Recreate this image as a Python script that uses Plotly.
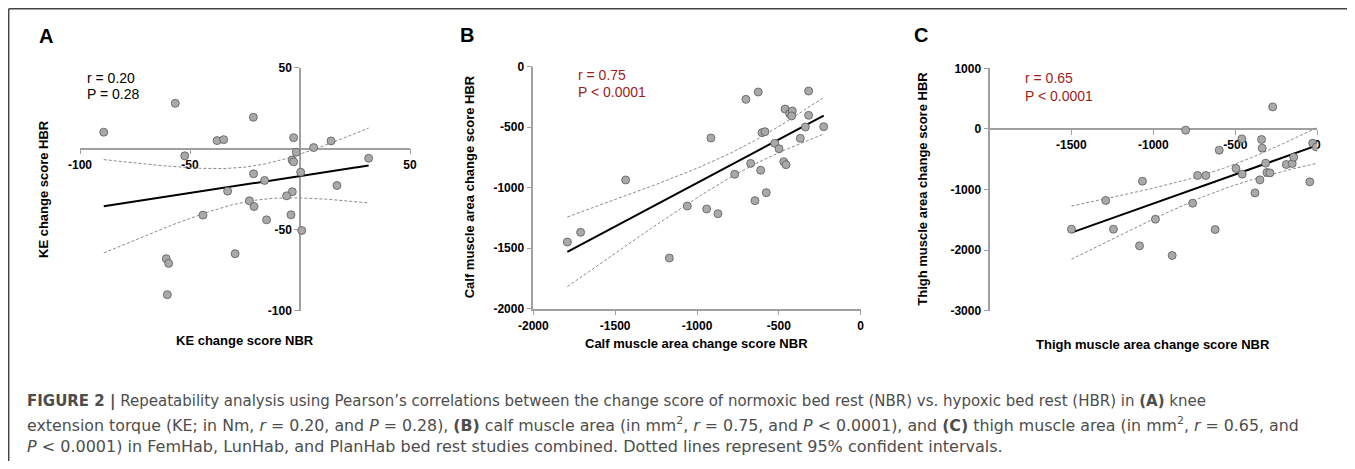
import numpy as np
import plotly.graph_objects as go

W, H = 1355, 469          # browser window
BM = 8                    # default body margin of the page
FW, FH = W - 2 * BM, H - 2 * BM

# ---------------- data ----------------
# Panel A: knee extension torque change scores (Nm)
ke_nbr = [-89.2, -56.7, -21.2, -37.7, -34.7, -52.4, -2.9, 14.1, 6.2, -1.7,
          -3.6, -2.9, 31.2, 0.3, -21.1, -16.1, 16.8, -32.9, -3.5, -6.1,
          -23.0, -20.9, -44.1, -4.1, -15.2, 0.8, -29.5, -60.8, -59.7, -60.3]
ke_hbr = [10.2, 28.0, 19.4, 5.0, 5.6, -4.4, 6.8, 4.8, 0.7, -2.2,
          -6.9, -8.1, -5.9, -14.5, -15.5, -19.6, -22.7, -26.2, -26.6, -29.1,
          -32.2, -35.7, -41.0, -40.8, -43.9, -50.5, -64.8, -67.9, -70.8, -90.1]

# Panel B: calf muscle area change scores (mm2)
calf_nbr = [-1792, -1711, -1436, -1169, -1059, -941, -872, -915, -770, -701,
            -626, -672, -646, -611, -577, -603, -585, -525, -499, -470,
            -456, -462, -434, -418, -422, -369, -338, -318, -318, -226]
calf_hbr = [-1449, -1369, -936, -1581, -1151, -1176, -1215, -589, -889, -270,
            -209, -799, -1107, -856, -1041, -545, -537, -633, -678, -785,
            -810, -350, -388, -366, -407, -592, -498, -402, -201, -496]

# Panel C: thigh muscle area change scores (mm2)
thigh_nbr = [-1499, -1290, -1243, -1084, -1066, -987, -885, -803, -760, -730,
             -680, -623, -598, -496, -460, -458, -380, -350, -340, -336,
             -315, -307, -289, -272, -189, -153, -144, -46, -28, -6]
thigh_hbr = [-1655, -1181, -1655, -1930, -863, -1490, -2089, -21, -1226, -769,
             -769, -1660, -351, -653, -165, -747, -1056, -841, -175, -318,
             -566, -720, -726, 363, -588, -571, -467, -874, -236, -297]

# Tick labels
a_xticks = [-100, -50, 50]
a_yticks = [50, -50, -100]
b_xticks = [-2000, -1500, -1000, -500, 0]
b_yticks = [0, -500, -1000, -1500, -2000]
c_xticks = [-1500, -1000, -500, 0]
c_yticks = [1000, 0, -1000, -2000, -3000]

stats_a = ["r = 0.20", "P = 0.28"]
stats_b = ["r = 0.75", "P &lt; 0.0001"]
stats_c = ["r = 0.65", "P &lt; 0.0001"]

T_CRIT = 2.048  # t(0.975, df = 28)


# ---------------- helpers ----------------
def fx(px):
    return (px - BM) / FW


def fy(py):
    return 1 - (py - BM) / FH


def fit(x, y):
    x = np.asarray(x, float)
    y = np.asarray(y, float)
    n = len(x)
    b, a = np.polyfit(x, y, 1)
    xs = np.linspace(x.min(), x.max(), 120)
    yh = a + b * xs
    resid = y - (a + b * x)
    s = np.sqrt((resid ** 2).sum() / (n - 2))
    sxx = ((x - x.mean()) ** 2).sum()
    se = s * np.sqrt(1 / n + (xs - x.mean()) ** 2 / sxx)
    return xs, yh, yh - T_CRIT * se, yh + T_CRIT * se


FONT = "Arial, 'Liberation Sans', Helvetica, sans-serif"
CAPFONT = "'DejaVu Sans', Arial, sans-serif"
AXC = "#a0a0a0"
DOT_FILL = "#a9a9a9"
DOT_LINE = "#5a5a5a"
RED = "#a01c1c"

fig = go.Figure()

panels = [
    ("x", "y", ke_nbr, ke_hbr),
    ("x2", "y2", calf_nbr, calf_hbr),
    ("x3", "y3", thigh_nbr, thigh_hbr),
]
for xa, ya, xv, yv in panels:
    xs, yh, lo, hi = fit(xv, yv)
    for band in (lo, hi):
        fig.add_trace(go.Scatter(x=xs, y=band, mode="lines", xaxis=xa, yaxis=ya,
                                 line=dict(color="#8a8a8a", width=1, dash="3px,2px"),
                                 showlegend=False, hoverinfo="skip"))
    fig.add_trace(go.Scatter(x=xs, y=yh, mode="lines", xaxis=xa, yaxis=ya,
                             line=dict(color="black", width=2),
                             showlegend=False, hoverinfo="skip"))
    fig.add_trace(go.Scatter(x=xv, y=yv, mode="markers", xaxis=xa, yaxis=ya,
                             marker=dict(size=8, color=DOT_FILL,
                                         line=dict(color=DOT_LINE, width=0.8)),
                             showlegend=False))


def axis(domain, rng, tickvals, **kw):
    d = dict(domain=domain, range=rng, tickvals=tickvals,
             ticktext=[str(v) for v in tickvals],
             showline=True, linecolor=AXC, linewidth=1.5,
             ticks="outside", ticklen=5, tickwidth=1.2, tickcolor=AXC,
             showgrid=False, zeroline=False, layer="below traces",
             automargin=False,
             tickfont=dict(family=FONT, size=12, color="black", weight="bold"),
             fixedrange=True)
    d.update(kw)
    return d


def zero_pos(dom, rng):
    return dom[0] + (0 - rng[0]) / (rng[1] - rng[0]) * (dom[1] - dom[0])


# Panel A geometry
a_xd = [fx(80), fx(410)]
a_yd = [fy(310.7), fy(67.7)]
a_rx = [-100, 50]
a_ry = [-100, 50]
# Panel B
b_xd = [fx(533.3), fx(860.7)]
b_yd = [fy(308.7), fy(66.7)]
b_rx = [-2000, 0]
b_ry = [-2000, 0]
# Panel C
c_xd = [fx(989.3), fx(1317.3)]
c_yd = [fy(310.7), fy(68.3)]
c_rx = [-2000, 0]
c_ry = [-3000, 1000]

fig.update_layout(
    width=FW, height=FH,
    margin=dict(l=0, r=0, t=0, b=0, pad=0, autoexpand=False),
    paper_bgcolor="white", plot_bgcolor="rgba(0,0,0,0)",
    showlegend=False,
    xaxis=axis(a_xd, a_rx, a_xticks, anchor="free", position=zero_pos(a_yd, a_ry)),
    yaxis=axis(a_yd, a_ry, a_yticks, anchor="free", position=zero_pos(a_xd, a_rx)),
    xaxis2=axis(b_xd, b_rx, b_xticks, anchor="y2"),
    yaxis2=axis(b_yd, b_ry, b_yticks, anchor="x2"),
    xaxis3=axis(c_xd, c_rx, c_xticks, anchor="free", position=zero_pos(c_yd, c_ry)),
    yaxis3=axis(c_yd, c_ry, c_yticks, anchor="free", position=c_xd[0]),
)

ann = []


def text(x, y, s, size=13, bold=False, color="black", angle=0, xanchor="center",
         family=FONT):
    ann.append(dict(x=fx(x), y=fy(y), xref="paper", yref="paper", text=s,
                    showarrow=False, xanchor=xanchor, yanchor="middle",
                    textangle=angle,
                    font=dict(family=family, size=size, color=color,
                              weight="bold" if bold else "normal")))


# panel letters
text(45.5, 36.5, "A", size=20, bold=True)
text(466.7, 35, "B", size=20, bold=True)
text(920.7, 35, "C", size=20, bold=True)

# axis titles
text(245, 340, "KE change score NBR", bold=True)
text(43, 189, "KE change score HBR", bold=True, angle=-90)
text(696.7, 343.3, "Calf muscle area change score NBR", bold=True)
text(469.3, 187, "Calf muscle area change score HBR", bold=True, angle=-90)
text(1153.3, 344, "Thigh muscle area change score NBR", bold=True)
text(921.7, 189, "Thigh muscle area change score HBR", bold=True, angle=-90)

# stats
text(85, 77.7, stats_a[0], size=14, xanchor="left")
text(85, 94.2, stats_a[1], size=14, xanchor="left")
text(576, 75, stats_b[0], size=14, color=RED, xanchor="left")
text(576, 91.7, stats_b[1], size=14, color=RED, xanchor="left")
text(1022.7, 78.3, stats_c[0], size=14, color=RED, xanchor="left")
text(1022.7, 96, stats_c[1], size=14, color=RED, xanchor="left")

# caption
CAP = "#4d4d4d"
cap1 = ("<b>FIGURE 2 |</b> Repeatability analysis using Pearson’s correlations between the change "
        "score of normoxic bed rest (NBR) vs. hypoxic bed rest (HBR) in <b>(A)</b> knee")
cap2 = ("extension torque (KE; in Nm, <i>r</i> = 0.20, and <i>P</i> = 0.28), <b>(B)</b> calf muscle "
        "area (in mm<sup>2</sup>, <i>r</i> = 0.75, and <i>P</i> &lt; 0.0001), and <b>(C)</b> thigh muscle "
        "area (in mm<sup>2</sup>, <i>r</i> = 0.65, and")
cap3 = ("<i>P</i> &lt; 0.0001) in FemHab, LunHab, and PlanHab bed rest studies combined. "
        "Dotted lines represent 95% confident intervals.")
text(25, 401.7, cap1, size=15.0, color=CAP, xanchor="left", family=CAPFONT)
text(25, 424.2, cap2, size=15.8, color=CAP, xanchor="left", family=CAPFONT)
text(25, 446.7, cap3, size=16.0, color=CAP, xanchor="left", family=CAPFONT)

fig.update_layout(annotations=ann)

# frame (top and left border)
fig.add_shape(type="line", xref="paper", yref="paper", x0=fx(8.7), x1=1.0,
              y0=fy(8.7), y1=fy(8.7), line=dict(color="#444444", width=1.5))
fig.add_shape(type="line", xref="paper", yref="paper", x0=fx(8.7), x1=fx(8.7),
              y0=fy(8.7), y1=0.0, line=dict(color="#444444", width=1.5))

fig.write_html("out.html", config={"displayModeBar": False})
